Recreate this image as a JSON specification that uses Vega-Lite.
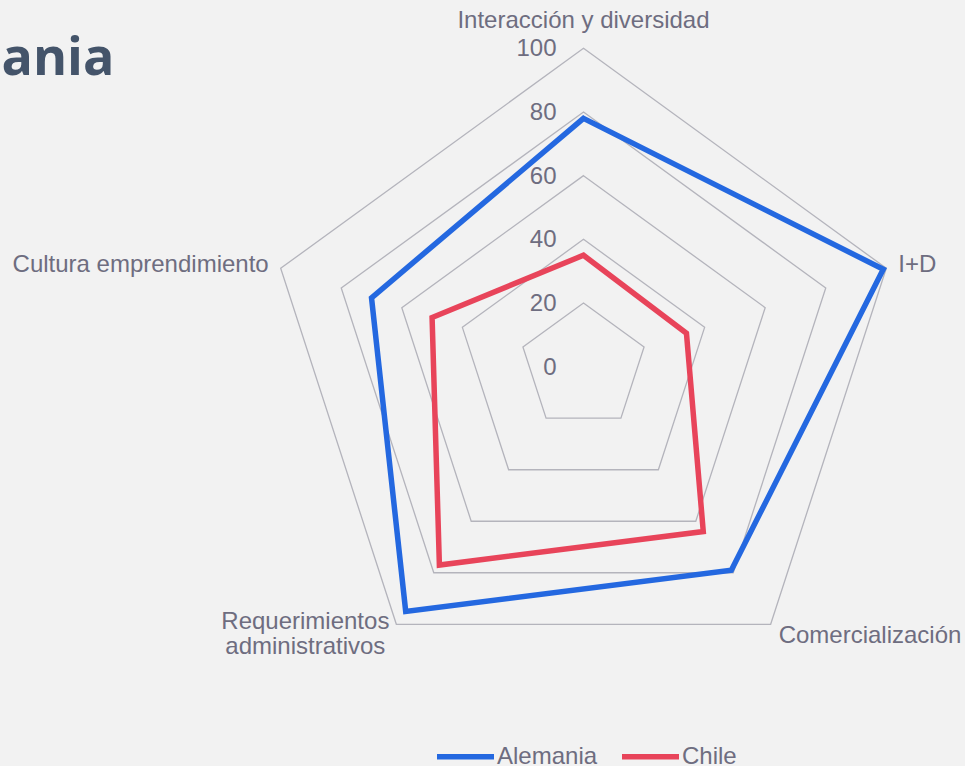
{
  "$schema": "https://vega.github.io/schema/vega-lite/v6.json",
  "width": 965,
  "height": 766,
  "autosize": {"type": "none"},
  "padding": 0,
  "background": "#f2f2f2",
  "config": {"view": {"stroke": null}, "font": "Liberation Sans"},
  "title": {
    "text": "Alemania",
    "anchor": "start",
    "frame": "group",
    "font": "Open Sans",
    "fontWeight": "bold",
    "fontSize": 52,
    "color": "#44546a",
    "dx": -132,
    "dy": 90
  },
  "datasets": {
    "categories": [
      {"category": "Interacción y diversidad", "idx": 0, "levels": [20, 40, 60, 80, 100]},
      {"category": "I+D", "idx": 1, "levels": [20, 40, 60, 80, 100]},
      {"category": "Comercialización", "idx": 2, "levels": [20, 40, 60, 80, 100]},
      {"category": "Requerimientos administrativos", "idx": 3, "levels": [20, 40, 60, 80, 100]},
      {"category": "Cultura emprendimiento", "idx": 4, "levels": [20, 40, 60, 80, 100]}
    ],
    "ticks": [
      {"tick": 0}, {"tick": 20}, {"tick": 40}, {"tick": 60}, {"tick": 80}, {"tick": 100}
    ],
    "scores": [
      {"series": "Alemania", "category": "Interacción y diversidad", "value": 78},
      {"series": "Alemania", "category": "I+D", "value": 99},
      {"series": "Alemania", "category": "Comercialización", "value": 79},
      {"series": "Alemania", "category": "Requerimientos administrativos", "value": 95},
      {"series": "Alemania", "category": "Cultura emprendimiento", "value": 70},
      {"series": "Chile", "category": "Interacción y diversidad", "value": 35},
      {"series": "Chile", "category": "I+D", "value": 34},
      {"series": "Chile", "category": "Comercialización", "value": 64},
      {"series": "Chile", "category": "Requerimientos administrativos", "value": 77},
      {"series": "Chile", "category": "Cultura emprendimiento", "value": 50}
    ]
  },
  "encoding": {
    "x": {"field": "px", "type": "quantitative", "scale": {"domain": [-183.26, 119.82], "nice": false, "zero": false}, "axis": null},
    "y": {"field": "py", "type": "quantitative", "scale": {"domain": [-125.41, 115.17], "nice": false, "zero": false}, "axis": null}
  },
  "layer": [
    {
      "data": {"name": "categories"},
      "transform": [
        {"flatten": ["levels"], "as": ["level"]},
        {"calculate": "PI/2 - datum.idx*2*PI/5", "as": "angle"},
        {"calculate": "datum.level*cos(datum.angle)", "as": "px"},
        {"calculate": "datum.level*sin(datum.angle)", "as": "py"}
      ],
      "mark": {"type": "line", "interpolate": "linear-closed", "stroke": "#b4b4bc", "strokeWidth": 1.3},
      "encoding": {
        "detail": {"field": "level", "type": "nominal"},
        "order": {"field": "idx", "type": "quantitative"}
      }
    },
    {
      "data": {"name": "ticks"},
      "transform": [
        {"calculate": "0", "as": "px"},
        {"calculate": "datum.tick", "as": "py"}
      ],
      "mark": {"type": "text", "align": "right", "baseline": "middle", "dx": -27, "dy": 1, "fontSize": 24, "color": "#6e6d80"},
      "encoding": {"text": {"field": "tick", "type": "quantitative"}}
    },
    {
      "data": {"name": "categories"},
      "transform": [
        {"filter": "datum.idx == 0"},
        {"calculate": "PI/2 - datum.idx*2*PI/5", "as": "angle"},
        {"calculate": "100*cos(datum.angle)", "as": "px"},
        {"calculate": "100*sin(datum.angle)", "as": "py"}
      ],
      "mark": {"type": "text", "align": "center", "baseline": "middle", "dy": -27, "fontSize": 24, "color": "#6e6d80"},
      "encoding": {"text": {"field": "category", "type": "nominal"}}
    },
    {
      "data": {"name": "categories"},
      "transform": [
        {"filter": "datum.idx == 1"},
        {"calculate": "PI/2 - datum.idx*2*PI/5", "as": "angle"},
        {"calculate": "100*cos(datum.angle)", "as": "px"},
        {"calculate": "100*sin(datum.angle)", "as": "py"}
      ],
      "mark": {"type": "text", "align": "left", "baseline": "middle", "dx": 12, "dy": -3, "fontSize": 24, "color": "#6e6d80"},
      "encoding": {"text": {"field": "category", "type": "nominal"}}
    },
    {
      "data": {"name": "categories"},
      "transform": [
        {"filter": "datum.idx == 2"},
        {"calculate": "PI/2 - datum.idx*2*PI/5", "as": "angle"},
        {"calculate": "100*cos(datum.angle)", "as": "px"},
        {"calculate": "100*sin(datum.angle)", "as": "py"}
      ],
      "mark": {"type": "text", "align": "left", "baseline": "middle", "dx": 8, "dy": 12, "fontSize": 24, "color": "#6e6d80"},
      "encoding": {"text": {"field": "category", "type": "nominal"}}
    },
    {
      "data": {"name": "categories"},
      "transform": [
        {"filter": "datum.idx == 3"},
        {"calculate": "PI/2 - datum.idx*2*PI/5", "as": "angle"},
        {"calculate": "100*cos(datum.angle)", "as": "px"},
        {"calculate": "100*sin(datum.angle)", "as": "py"}
      ],
      "mark": {"type": "text", "align": "center", "baseline": "middle", "dx": -91, "dy": -2, "lineBreak": " ", "lineHeight": 25, "fontSize": 24, "color": "#6e6d80"},
      "encoding": {"text": {"field": "category", "type": "nominal"}}
    },
    {
      "data": {"name": "categories"},
      "transform": [
        {"filter": "datum.idx == 4"},
        {"calculate": "PI/2 - datum.idx*2*PI/5", "as": "angle"},
        {"calculate": "100*cos(datum.angle)", "as": "px"},
        {"calculate": "100*sin(datum.angle)", "as": "py"}
      ],
      "mark": {"type": "text", "align": "right", "baseline": "middle", "dx": -12, "dy": -3, "fontSize": 24, "color": "#6e6d80"},
      "encoding": {"text": {"field": "category", "type": "nominal"}}
    },
    {
      "data": {"name": "scores"},
      "transform": [
        {"lookup": "category", "from": {"data": {"name": "categories"}, "key": "category", "fields": ["idx"]}},
        {"calculate": "PI/2 - datum.idx*2*PI/5", "as": "angle"},
        {"calculate": "datum.value*cos(datum.angle)", "as": "px"},
        {"calculate": "datum.value*sin(datum.angle)", "as": "py"}
      ],
      "mark": {"type": "line", "interpolate": "linear-closed", "strokeWidth": 5.5},
      "encoding": {
        "color": {
          "field": "series",
          "type": "nominal",
          "scale": {"domain": ["Alemania", "Chile"], "range": ["#2468e0", "#e8445a"]},
          "legend": {
            "title": null,
            "orient": "none",
            "legendX": 434,
            "legendY": 725,
            "direction": "horizontal",
            "symbolType": "stroke",
            "symbolSize": 3249,
            "symbolStrokeWidth": 5.5,
            "labelFontSize": 24,
            "labelFont": "Liberation Sans",
            "labelColor": "#6e6d80",
            "labelOffset": 0,
            "columnPadding": 13
          }
        },
        "order": {"field": "idx", "type": "quantitative"}
      }
    }
  ]
}
